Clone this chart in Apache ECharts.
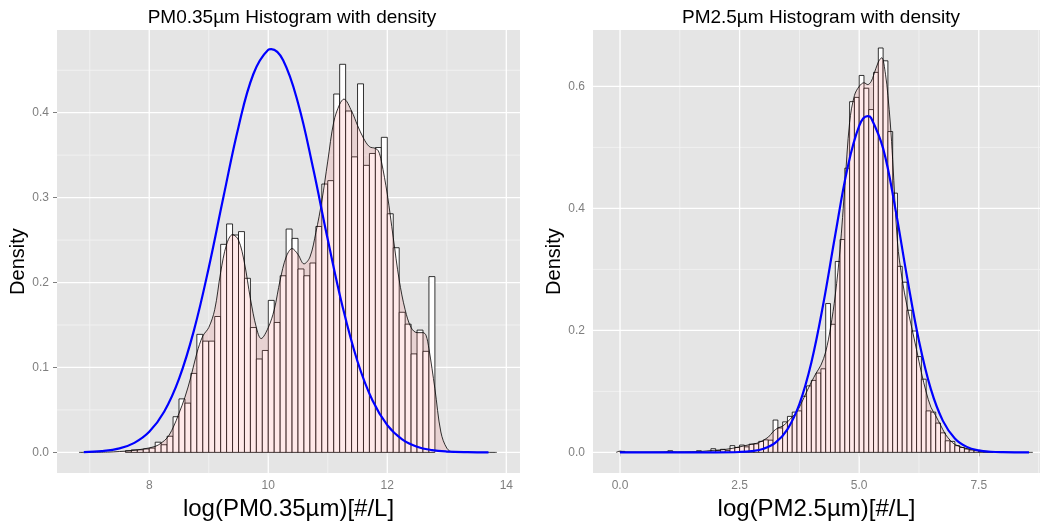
<!DOCTYPE html>
<html><head><meta charset="utf-8">
<script src="https://cdn.jsdelivr.net/npm/echarts@6/dist/echarts.min.js"></script>
<style>html,body{margin:0;padding:0;background:#fff}#c{width:1047px;height:526px}</style>
</head><body><div id="c"></div>
<script>
// ---------- data: PM0.35 ----------
const pm035BinWidth = 0.1;
const pm035BinStarts = [7.6,7.7,7.8,7.9,8.0,8.1,8.2,8.3,8.4,8.5,8.6,8.7,8.8,8.9,9.0,9.1,9.2,9.3,9.4,9.5,9.6,9.7,9.8,9.9,10.0,10.1,10.2,10.3,10.4,10.5,10.6,10.7,10.8,10.9,11.0,11.1,11.2,11.3,11.4,11.5,11.6,11.7,11.8,11.9,12.0,12.1,12.2,12.3,12.4,12.5,12.6,12.7];
const pm035Hist = [0.002,0.003,0.003,0.004,0.005,0.012,0.009,0.019,0.042,0.063,0.058,0.093,0.139,0.131,0.131,0.160,0.245,0.269,0.256,0.260,0.205,0.147,0.110,0.120,0.179,0.153,0.208,0.263,0.252,0.216,0.208,0.223,0.266,0.316,0.320,0.422,0.457,0.402,0.348,0.434,0.338,0.352,0.359,0.371,0.281,0.241,0.165,0.151,0.116,0.144,0.119,0.207];
const pm035KdeX = [6.82,7.3,7.5,7.7,7.9,8.1,8.2,8.3,8.4,8.5,8.6,8.7,8.8,8.9,9.0,9.1,9.2,9.3,9.4,9.5,9.6,9.7,9.8,9.88,10.0,10.1,10.2,10.3,10.4,10.5,10.6,10.7,10.8,10.9,11.0,11.1,11.2,11.27,11.4,11.5,11.6,11.7,11.8,11.85,11.9,12.0,12.1,12.2,12.3,12.4,12.5,12.6,12.65,12.7,12.8,12.9,13.0,13.1,13.84];
const pm035KdeY = [0,0.0003,0.001,0.002,0.004,0.007,0.011,0.017,0.029,0.046,0.065,0.089,0.117,0.137,0.147,0.168,0.212,0.245,0.2565,0.250,0.223,0.181,0.147,0.134,0.147,0.168,0.203,0.230,0.240,0.233,0.222,0.230,0.259,0.296,0.343,0.389,0.410,0.416,0.402,0.385,0.370,0.360,0.358,0.355,0.343,0.304,0.253,0.203,0.168,0.147,0.141,0.141,0.138,0.122,0.075,0.024,0.005,0.0005,0];
const pm035NormX = [6.9,7.2,7.5,7.75,8.0,8.25,8.5,8.75,9.0,9.25,9.5,9.75,10.0,10.05,10.25,10.5,10.75,11.0,11.25,11.5,11.75,12.0,12.25,12.5,12.75,13.0,13.35,13.7];
const pm035NormY = [0.0004,0.0015,0.0047,0.0112,0.0242,0.0478,0.0866,0.1434,0.2175,0.3018,0.3833,0.4456,0.4741,0.4749,0.4617,0.4114,0.3357,0.2506,0.1712,0.1070,0.0613,0.0321,0.0154,0.0067,0.0027,0.0010,0.0002,0];
const pm035XTicks = [8,10,12,14];
const pm035XMinor = [7,9,11,13];
const pm035YTicks = [0,0.1,0.2,0.3,0.4];
const pm035YMinor = [0.05,0.15,0.25,0.35,0.45];

// ---------- data: PM2.5 ----------
const pm25BinWidth = 0.1;
const pm25BinStarts = [0.0,0.1,0.2,0.3,0.4,0.5,0.6,0.7,0.8,0.9,1.0,1.1,1.2,1.3,1.4,1.5,1.6,1.7,1.8,1.9,2.0,2.1,2.2,2.3,2.4,2.5,2.6,2.7,2.8,2.9,3.0,3.1,3.2,3.3,3.4,3.5,3.6,3.7,3.8,3.9,4.0,4.1,4.2,4.3,4.4,4.5,4.6,4.7,4.8,4.9,5.0,5.1,5.2,5.3,5.4,5.5,5.6,5.7,5.8,5.9,6.0,6.1,6.2,6.3,6.4,6.5,6.6,6.7,6.8,6.9,7.0,7.1,7.2,7.3,7.4,7.5,7.6,7.7];
const pm25Hist = [0.0016,0,0,0,0,0,0,0,0,0,0.0027,0,0,0,0,0,0.0027,0,0,0.006,0.003,0.005,0.003,0.011,0.008,0.012,0.009,0.0135,0.014,0.018,0.0205,0.020,0.053,0.040,0.050,0.059,0.066,0.068,0.092,0.109,0.118,0.130,0.137,0.244,0.210,0.313,0.349,0.466,0.575,0.582,0.618,0.597,0.562,0.623,0.663,0.642,0.526,0.425,0.305,0.279,0.233,0.199,0.157,0.120,0.068,0.066,0.048,0.032,0.019,0.018,0.011,0.008,0.0055,0.0038,0.0027,0.0015,0.001,0.001];
const pm25KdeX = [-0.08,0.0,0.1,0.4,0.9,1.0,1.2,1.5,1.7,1.9,2.1,2.3,2.5,2.7,2.9,3.1,3.2,3.3,3.4,3.5,3.6,3.7,3.8,3.9,4.0,4.1,4.2,4.3,4.4,4.5,4.6,4.7,4.8,4.9,5.0,5.1,5.18,5.25,5.3,5.4,5.47,5.55,5.6,5.65,5.7,5.8,5.9,6.0,6.1,6.2,6.3,6.4,6.5,6.6,6.7,6.8,6.9,7.0,7.2,7.4,7.6,7.9,8.63];
const pm25KdeY = [0,0.002,0.0005,0.0002,0.0005,0.0012,0.0005,0.001,0.0015,0.003,0.004,0.006,0.009,0.0125,0.016,0.025,0.034,0.040,0.043,0.050,0.058,0.067,0.082,0.099,0.115,0.130,0.143,0.165,0.204,0.258,0.333,0.437,0.541,0.585,0.600,0.606,0.603,0.608,0.618,0.640,0.647,0.620,0.585,0.540,0.480,0.345,0.283,0.240,0.204,0.168,0.131,0.099,0.074,0.060,0.045,0.030,0.020,0.013,0.007,0.004,0.002,0.0005,0];
const pm25NormX = [0.0,1.0,2.0,2.5,2.75,3.0,3.25,3.5,3.75,4.0,4.25,4.5,4.75,5.0,5.175,5.25,5.5,5.75,6.0,6.25,6.5,6.75,7.0,7.25,7.5,7.75,8.0,8.55];
const pm25NormY = [0,0,0.00004,0.0006,0.0020,0.0060,0.0160,0.0378,0.0793,0.1475,0.2436,0.3568,0.4640,0.5354,0.5513,0.5483,0.4984,0.4021,0.2878,0.1828,0.1032,0.0516,0.0229,0.0090,0.0032,0.0010,0.0003,0];
const pm25XTicks = [0,2.5,5,7.5];
const pm25XMinor = [1.25,3.75,6.25,8.75];
const pm25YTicks = [0,0.2,0.4,0.6];
const pm25YMinor = [0.1,0.3,0.5];

// ---------- helpers ----------
const zip = (a, b) => a.map((v, i) => [v, b[i]]);
const GREY = '#7F7F7F';
const FONT = 'Liberation Sans, Arial, Helvetica, sans-serif';

function gridLineSeries(idx, xMaj, xMin, yMaj, yMin) {
  const data = [];
  xMin.forEach(v => data.push([v, 0, 0, 0]));
  yMin.forEach(v => data.push([xMaj[0], v, 1, 0]));
  xMaj.forEach(v => data.push([v, 0, 0, 1]));
  yMaj.forEach(v => data.push([xMaj[0], v, 1, 1]));
  return {
    type: 'custom', xAxisIndex: idx, yAxisIndex: idx, silent: true, z: 1, clip: false,
    data: data,
    renderItem: function (params, api) {
      const cs = params.coordSys;
      const p = api.coord([api.value(0), api.value(1)]);
      const major = api.value(3) === 1;
      const shape = api.value(2) === 0
        ? { x1: p[0], y1: cs.y, x2: p[0], y2: cs.y + cs.height }
        : { x1: cs.x, y1: p[1], x2: cs.x + cs.width, y2: p[1] };
      return { type: 'line', shape: shape,
        style: { stroke: major ? '#FFFFFF' : '#F2F2F2', lineWidth: major ? 1.3 : 0.9 } };
    }
  };
}

function histSeries(idx, starts, width, heights) {
  return {
    type: 'custom', xAxisIndex: idx, yAxisIndex: idx, z: 2,
    data: starts.map((s, i) => [s, s + width, heights[i]]),
    renderItem: function (params, api) {
      const p0 = api.coord([api.value(0), 0]);
      const p1 = api.coord([api.value(1), api.value(2)]);
      return { type: 'rect',
        shape: { x: p0[0], y: p1[1], width: p1[0] - p0[0], height: p0[1] - p1[1] },
        style: { fill: '#FFFFFF', stroke: '#000000', lineWidth: 0.8 } };
    }
  };
}

function kdeSeries(idx, xs, ys) {
  return {
    type: 'line', xAxisIndex: idx, yAxisIndex: idx, z: 3, smooth: 0.35,
    symbol: 'none', data: zip(xs, ys), silent: true,
    lineStyle: { color: '#000000', width: 0.8 },
    areaStyle: { color: 'rgba(255,102,102,0.2)', origin: 0 }
  };
}

function normSeries(idx, xs, ys) {
  return {
    type: 'line', xAxisIndex: idx, yAxisIndex: idx, z: 4, smooth: 0.4,
    symbol: 'none', data: zip(xs, ys), silent: true,
    lineStyle: { color: '#0000FF', width: 2.2 }
  };
}

function xAxis(idx, min, max, ticks, fmt, name) {
  return {
    type: 'value', gridIndex: idx, min: min, max: max,
    axisLine: { show: false },
    axisTick: { show: true, length: 4, customValues: ticks, lineStyle: { color: GREY, width: 1 } },
    axisLabel: { customValues: ticks, formatter: fmt, color: GREY, fontSize: 12, fontFamily: FONT, margin: 7 },
    splitLine: { show: false },
    name: name, nameLocation: 'middle', nameGap: 17,
    nameTextStyle: { color: '#000', fontSize: 24, fontFamily: FONT, verticalAlign: 'top' }
  };
}
function yAxis(idx, min, max, ticks) {
  return {
    type: 'value', gridIndex: idx, min: min, max: max,
    axisLine: { show: false },
    axisTick: { show: true, length: 4, customValues: ticks, lineStyle: { color: GREY, width: 1 } },
    axisLabel: { customValues: ticks, formatter: v => v.toFixed(1), color: GREY, fontSize: 12, fontFamily: FONT, margin: 8 },
    splitLine: { show: false },
    name: 'Density', nameLocation: 'middle', nameGap: 29, nameRotate: 90,
    nameTextStyle: { color: '#000', fontSize: 20, fontFamily: FONT, padding: [0, 20, 0, 0] }
  };
}

const chart = echarts.init(document.getElementById('c'));
chart.setOption({
  animation: false,
  backgroundColor: '#FFFFFF',
  grid: [
    { left: 57, right: 527, top: 30, bottom: 47, show: true, backgroundColor: '#E5E5E5', borderWidth: 0 },
    { left: 593, right: 7, top: 30, bottom: 47, show: true, backgroundColor: '#E5E5E5', borderWidth: 0 }
  ],
  graphic: [
    { type: 'text', x: 292, y: 18, style: { text: 'PM0.35µm Histogram with density', align: 'center', verticalAlign: 'middle', fill: '#000', font: '19px ' + FONT } },
    { type: 'text', x: 821, y: 18, style: { text: 'PM2.5µm Histogram with density', align: 'center', verticalAlign: 'middle', fill: '#000', font: '19px ' + FONT } }
  ],
  xAxis: [
    xAxis(0, 6.45, 14.23, pm035XTicks, v => String(v), 'log(PM0.35µm)[#/L]'),
    xAxis(1, -0.565, 8.78, pm25XTicks, v => v.toFixed(1), 'log(PM2.5µm)[#/L]')
  ],
  yAxis: [
    yAxis(0, -0.0244, 0.4974, pm035YTicks),
    yAxis(1, -0.034, 0.6925, pm25YTicks)
  ],
  series: [
    gridLineSeries(0, pm035XTicks, pm035XMinor, pm035YTicks, pm035YMinor),
    gridLineSeries(1, pm25XTicks, pm25XMinor, pm25YTicks, pm25YMinor),
    histSeries(0, pm035BinStarts, pm035BinWidth, pm035Hist),
    histSeries(1, pm25BinStarts, pm25BinWidth, pm25Hist),
    kdeSeries(0, pm035KdeX, pm035KdeY),
    kdeSeries(1, pm25KdeX, pm25KdeY),
    normSeries(0, pm035NormX, pm035NormY),
    normSeries(1, pm25NormX, pm25NormY)
  ]
});
</script></body></html>
